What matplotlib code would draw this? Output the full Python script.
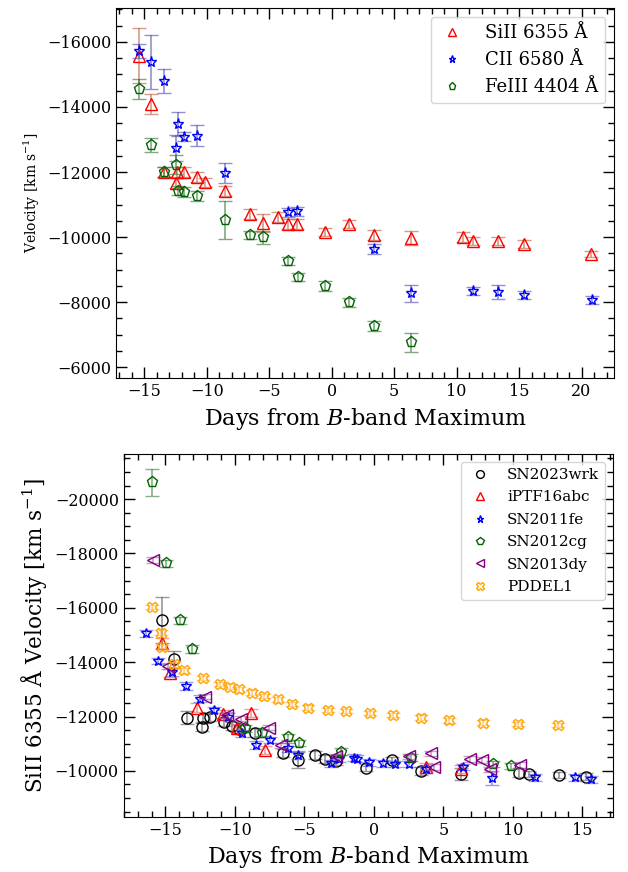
import numpy as np
import matplotlib
matplotlib.use("Agg")
import matplotlib.pyplot as plt

plt.rcParams["font.family"] = ["DejaVu Serif"]
plt.rcParams["mathtext.fontset"] = "dejavuserif"

# Top panel: SN2023wrk line velocities
si_days = [-15.4, -14.44, -13.4, -12.44, -12.36, -11.8, -10.76, -10.12, -8.5, -6.52, -5.5, -4.3,
           -3.5, -2.76, -0.57, 1.43, 3.43, 6.36, 10.55, 11.3, 13.35, 15.4, 20.76]
si_vel = [-15580, -14090, -11990, -11660, -11990, -11990, -11840, -11680, -11420, -10710, -10430, -10610,
          -10400, -10400, -10160, -10400, -10060, -9970, -9990, -9890, -9890, -9790, -9480]
si_err = [840, 320, 150, 150, 150, 150, 150, 150, 150, 150, 280, 150,
          150, 150, 120, 120, 150, 220, 150, 120, 120, 120, 100]

c_days = [-15.43, -14.44, -13.43, -12.3, -12.44, -11.83, -10.76, -8.5, -3.5, -2.76, 3.43, 6.36,
          11.3, 13.35, 15.4, 20.8]
c_vel = [-15730, -15380, -14790, -13470, -12750, -13090, -13120, -11970, -10760, -10790, -9630, -8270,
         -8330, -8300, -8220, -8070]
c_err = [220, 840, 370, 370, 400, 150, 320, 300, 130, 130, 150, 260, 120, 220, 120, 120]

fe_days = [-15.43, -14.44, -13.4, -12.44, -12.3, -11.83, -10.76, -8.5, -6.52, -5.5, -3.5, -2.7,
           -0.57, 1.43, 3.43, 6.36]
fe_vel = [-14550, -12840, -11990, -12230, -11430, -11390, -11270, -10530, -10070, -9990, -9270, -8780,
          -8500, -7990, -7270, -6760]
fe_err = [300, 210, 150, 300, 150, 150, 150, 580, 120, 210, 130, 120, 150, 150, 150, 300]

# Bottom panel: SiII 6355 comparison
wrk_days = [-15.27, -14.38, -13.46, -12.38, -12.26, -11.78, -10.82, -10.22, -9.74, -8.53, -6.54, -5.48,
            -4.25, -3.53, -2.76, -0.6, 1.32, 3.37, 6.3, 10.46, 11.18, 13.3, 15.26]
wrk_vel = [-15550, -14100, -11960, -11630, -11960, -11990, -11800, -11650, -11530, -11410, -10670, -10400,
           -10590, -10430, -10370, -10120, -10400, -10000, -9900, -9940, -9880, -9850, -9790]
wrk_err = [840, 320, 250, 150, 150, 150, 150, 150, 150, 150, 150, 280,
           150, 150, 150, 120, 120, 150, 220, 150, 120, 120, 120]

abc_days = [-15.25, -14.7, -12.74, -10.87, -9.86, -8.85, -7.81, 3.73, 6.25]
abc_vel = [-14700, -13610, -12330, -12080, -11590, -12140, -10770, -10150, -10060]
abc_err = [200, 150, 150, 150, 150, 150, 150, 150, 150]

fe11_days = [-16.4, -15.5, -14.5, -13.51, -12.5, -11.47, -10.5, -9.5, -8.49, -7.5, -6.2, -5.48, -3.08,
             -2.52, -1.44, -1.2, -0.36, 0.67, 1.49, 2.52, 3.77, 6.44, 8.53, 11.6, 14.47, 15.6]
fe11_vel = [-15060, -14040, -13640, -13120, -12660, -12240, -12000, -11380, -10940, -11130, -10860, -10590,
            -10280, -10450, -10490, -10450, -10310, -10280, -10260, -10260, -10060, -10150, -9730, -9760,
            -9760, -9690]
fe11_err = [120, 120, 150, 150, 120, 120, 120, 120, 150, 120, 150, 150, 120,
            120, 120, 120, 120, 120, 120, 120, 120, 120, 250, 120, 120, 120]

cg_days = [-15.95, -14.96, -13.96, -13.1, -9.3, -8.05, -6.18, -5.41, -2.4, 2.64, 8.6, 9.9]
cg_vel = [-20620, -17640, -15550, -14500, -11560, -11410, -11250, -11020, -10710, -10490, -10250, -10180]
cg_err = [490, 130, 130, 150, 120, 120, 120, 120, 120, 120, 120, 120]

dy_days = [-15.87, -14.78, -12.14, -10.58, -9.57, -7.57, -6.66, -2.76, 2.52, 4.09, 4.33, 6.9,
           7.76, 8.34, 10.53]
dy_vel = [-17760, -13860, -12730, -12050, -11920, -11590, -10940, -10530, -10530, -10640, -10150, -10430,
          -10400, -10060, -10210]
dy_err = [100] * len(dy_days)

pd_days = [-15.99, -15.35, -15.26, -14.35, -13.63, -12.26, -11.06, -10.38, -9.69, -8.77, -7.88, -6.9,
           -5.89, -4.74, -3.32, -2.0, -0.31, 1.39, 3.37, 5.41, 7.86, 10.38, 13.27]
pd_vel = [-16040, -15090, -14570, -13920, -13700, -13410, -13190, -13100, -13000, -12880, -12760, -12630,
          -12450, -12330, -12230, -12200, -12140, -12060, -11960, -11860, -11780, -11720, -11680]
pd_err = [80] * len(pd_days)


def draw(ax, x, y, err, marker, color, ecolor, label, ms):
    ax.errorbar(x, y, yerr=err, fmt="none", ecolor=ecolor, elinewidth=1.2, capsize=5, alpha=0.6)
    ax.plot(x, y, linestyle="none", marker=marker, mfc="none", mec=color, mew=1.0, ms=ms, label=label)


def style(ax):
    ax.minorticks_on()
    ax.tick_params(which="both", direction="in", top=True, right=True, labelsize=11.5)
    ax.tick_params(which="major", length=8, width=1)
    ax.tick_params(which="minor", length=4, width=1)
    ax.set_xlabel("Days from $B$-band Maximum", fontsize=16)


fig = plt.figure(figsize=(6.28, 8.72), dpi=100)
ax1 = fig.add_axes([0.185, 0.566, 0.793, 0.425])
ax2 = fig.add_axes([0.197, 0.063, 0.779, 0.416])

draw(ax1, si_days, si_vel, si_err, "^", "red", "#b85a36", "SiII 6355 Å", 8.5)
draw(ax1, c_days, c_vel, c_err, "*", "blue", "#4848b0", "CII 6580 Å", 8)
draw(ax1, fe_days, fe_vel, fe_err, "p", "darkgreen", "#2e6e2e", "FeIII 4404 Å", 8)
ax1.set_ylim(-5650, -17050)
ax1.set_yticks([-16000, -14000, -12000, -10000, -8000, -6000])
ax1.set_ylabel("Velocity [km s$^{-1}$]", fontsize=10)
style(ax1)
ax1.legend(loc="upper right", fontsize=13, handletextpad=1.0, handlelength=1.6, markerscale=0.65)

draw(ax2, wrk_days, wrk_vel, wrk_err, "o", "black", "#555555", "SN2023wrk", 8)
draw(ax2, abc_days, abc_vel, abc_err, "^", "red", "#e06060", "iPTF16abc", 8)
draw(ax2, fe11_days, fe11_vel, fe11_err, "*", "blue", "#5a5ae0", "SN2011fe", 7.5)
draw(ax2, cg_days, cg_vel, cg_err, "p", "darkgreen", "#3a7a3a", "SN2012cg", 8)
draw(ax2, dy_days, dy_vel, dy_err, "<", "purple", "#a060a0", "SN2013dy", 8)
draw(ax2, pd_days, pd_vel, pd_err, "X", "orange", "#ffb040", "PDDEL1", 7.5)
ax2.set_ylim(-8300, -21650)
ax2.set_yticks([-20000, -18000, -16000, -14000, -12000, -10000])
ax2.set_ylabel("SiII 6355 Å Velocity [km s$^{-1}$]", fontsize=15.5)
style(ax2)
ax2.legend(loc="upper right", fontsize=11, handletextpad=1.0, handlelength=1.6, markerscale=0.7,
           labelspacing=0.55)

fig.savefig("out.png", dpi=100)
